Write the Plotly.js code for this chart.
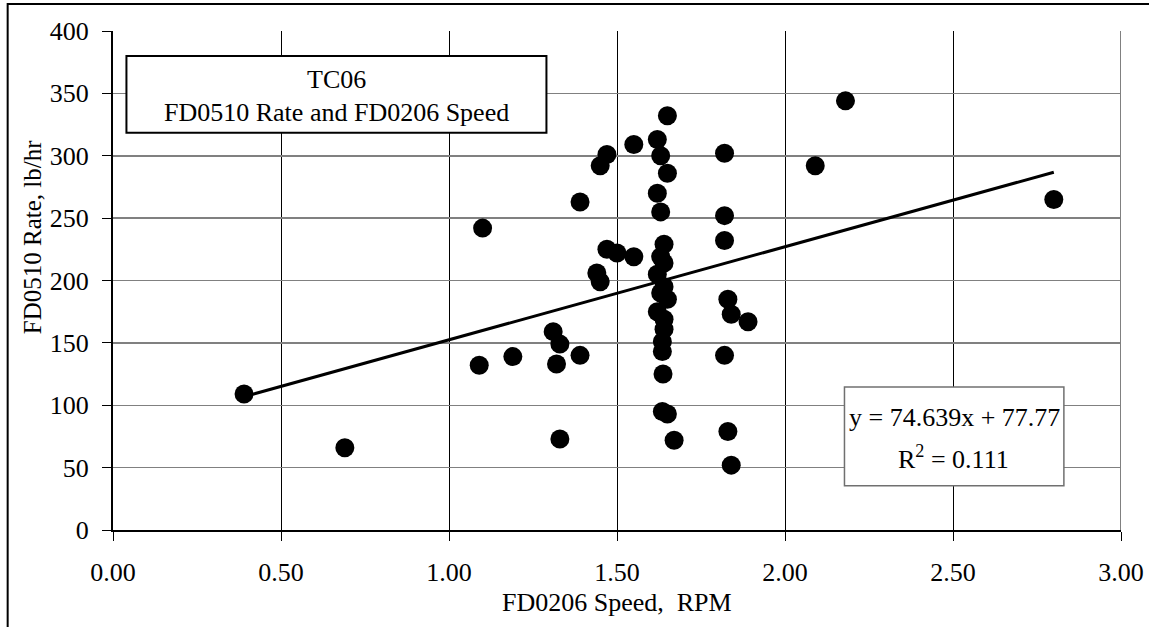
<!DOCTYPE html>
<html>
<head>
<meta charset="utf-8">
<script src="https://cdn.plot.ly/plotly-3.0.1.min.js"></script>
<style>
  html, body { margin: 0; padding: 0; background: #fff; }
  #chart { width: 1149px; height: 627px; }
</style>
</head>
<body>
<div id="chart"></div>
<script>
// Observed data: FD0206 Speed (RPM) vs FD0510 Rate (lb/hr)
var speedRPM = [0.39, 0.69, 1.09, 1.10, 1.19, 1.31, 1.32, 1.33, 1.33, 1.39,
                1.39, 1.44, 1.45, 1.45, 1.47, 1.47, 1.50, 1.55, 1.55, 1.62,
                1.63, 1.65, 1.65, 1.62, 1.63, 1.64, 1.63, 1.64, 1.62, 1.64,
                1.63, 1.65, 1.62, 1.64, 1.64, 1.635, 1.635, 1.637, 1.635, 1.65,
                1.67, 1.82, 1.82, 1.82, 1.83, 1.84, 1.89, 1.82, 1.83, 1.84,
                2.09, 2.18, 2.80];
var rateLbHr = [109, 66, 132, 242, 139, 159, 133, 149, 73, 263,
                140, 206, 199, 292, 301, 225, 222, 219, 309, 313,
                300, 332, 286, 270, 255, 229, 219, 214, 205, 195,
                190, 185, 175, 169, 161, 151, 143, 125, 95, 93,
                72, 302, 252, 232, 185, 173, 167, 140, 79, 52,
                292, 344, 265];

// Linear trendline y = 74.639x + 77.77, endpoints as drawn
var trendX = [0.39, 2.80];
var trendY = [106.9, 286.8];

var xTickVals = [0, 0.5, 1, 1.5, 2, 2.5, 3];
var xTickText = ["0.00", "0.50", "1.00", "1.50", "2.00", "2.50", "3.00"];
var yTickVals = [0, 50, 100, 150, 200, 250, 300, 350, 400];

var xTitle = "FD0206 Speed,  RPM";
var yTitle = "FD0510 Rate, lb/hr";
var titleLines = ["TC06", "FD0510 Rate and FD0206 Speed"];
var eqLines = ["y = 74.639x + 77.77", "R<sup>2</sup> = 0.111"];

var FONT = "Liberation Serif, Times New Roman, serif";

var traces = [
  {
    type: "scatter", mode: "markers",
    x: speedRPM, y: rateLbHr,
    marker: { color: "#000", size: 19, line: { width: 0 } },
    hoverinfo: "skip", showlegend: false, cliponaxis: false
  },
  {
    type: "scatter", mode: "lines",
    x: trendX, y: trendY,
    line: { color: "#000", width: 3 },
    hoverinfo: "skip", showlegend: false
  }
];

var layout = {
  width: 1149, height: 627,
  margin: { l: 113, r: 28, t: 31, b: 97 },
  paper_bgcolor: "#fff", plot_bgcolor: "#fff",
  font: { family: FONT, size: 26, color: "#000" },
  showlegend: false,
  hovermode: false,
  xaxis: {
    range: [0, 3], autorange: false,
    tickvals: xTickVals, ticktext: xTickText,
    ticks: "outside", ticklen: 9, tickwidth: 1, tickcolor: "#000",
    showgrid: true, gridcolor: "#000", gridwidth: 1,
    showline: true, linecolor: "#000", linewidth: 2,
    zeroline: false,
    tickfont: { family: FONT, size: 26, color: "#000" },
    ticklabelstandoff: 9,
    fixedrange: true
  },
  yaxis: {
    range: [0, 400], autorange: false,
    tickvals: yTickVals,
    ticks: "outside", ticklen: 9, tickwidth: 1, tickcolor: "#000",
    showgrid: true, gridcolor: "#808080", gridwidth: 1.5,
    showline: true, linecolor: "#000", linewidth: 2,
    zeroline: false,
    tickfont: { family: FONT, size: 26, color: "#000" },
    ticklabelstandoff: 8,
    fixedrange: true
  },
  shapes: [
    // plot area right border (gray)
    { type: "line", xref: "x", yref: "y", x0: 3, x1: 3, y0: 0, y1: 400,
      line: { color: "#808080", width: 2 }, layer: "above" },
    // title box
    { type: "rect", xref: "x", yref: "y", x0: 0.04, x1: 1.29, y0: 318.5, y1: 380,
      fillcolor: "#fff", line: { color: "#000", width: 2 }, layer: "above" },
    // equation box
    { type: "rect", xref: "x", yref: "y", x0: 2.177, x1: 2.83, y0: 35.5, y1: 114.6,
      fillcolor: "#fff", line: { color: "#707070", width: 1.5 }, layer: "above" },
    // outer chart frame (left and top edges)
    { type: "path", xref: "paper", yref: "paper",
      path: "M -0.1045 -0.2 L -0.1045 1.054 L 1.05 1.054",
      line: { color: "#000", width: 2 }, layer: "above" }
  ],
  annotations: [
    { xref: "x", yref: "y", x: 0.665, y: 361, text: titleLines[0], showarrow: false,
      font: { family: FONT, size: 26, color: "#000" }, xanchor: "center", yanchor: "middle" },
    { xref: "x", yref: "y", x: 0.665, y: 334.3, text: titleLines[1], showarrow: false,
      font: { family: FONT, size: 26, color: "#000" }, xanchor: "center", yanchor: "middle" },
    { xref: "x", yref: "y", x: 2.505, y: 90, text: eqLines[0], showarrow: false,
      font: { family: FONT, size: 26, color: "#000" }, xanchor: "center", yanchor: "middle" },
    { xref: "x", yref: "y", x: 2.5, y: 58, text: eqLines[1], showarrow: false,
      font: { family: FONT, size: 26, color: "#000" }, xanchor: "center", yanchor: "middle" },
    // x axis title
    { xref: "paper", yref: "paper", x: 0.5, y: -0.1456, text: xTitle,
      showarrow: false, font: { family: FONT, size: 26, color: "#000" },
      xanchor: "center", yanchor: "middle", borderpad: 0 },
    // y axis title (positioned as in reference)
    { xref: "paper", yref: "paper", x: -0.0797, y: 0.586, text: yTitle,
      showarrow: false, textangle: -90,
      font: { family: FONT, size: 25, color: "#000" }, xanchor: "center", yanchor: "middle" }
  ]
};

Plotly.newPlot("chart", traces, layout, { displayModeBar: false, staticPlot: true });
</script>
</body>
</html>
